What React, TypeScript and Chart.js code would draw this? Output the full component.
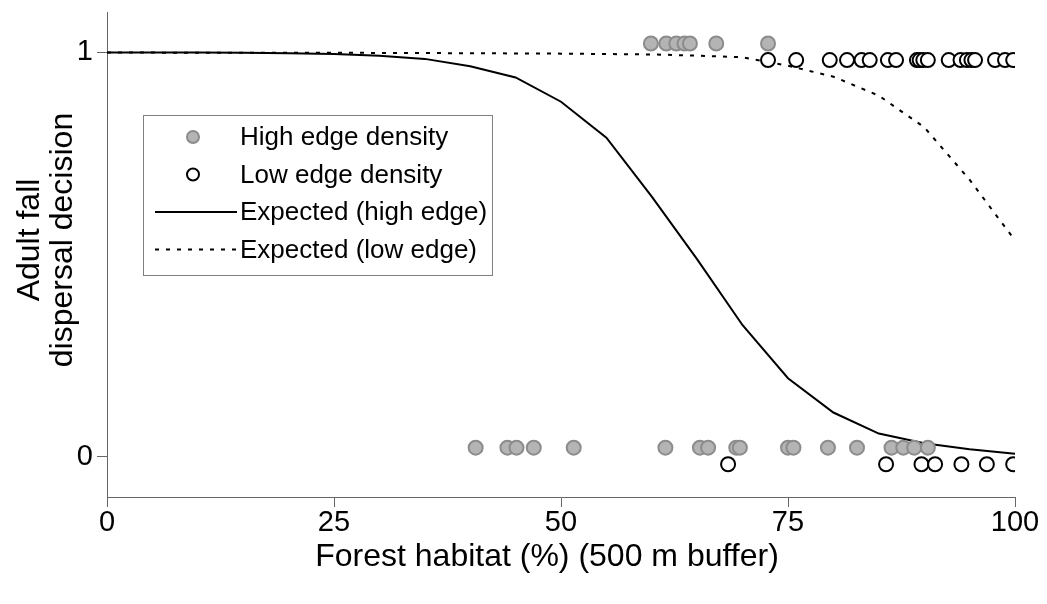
import { useEffect, useRef } from "react";
import { Chart, registerables } from "chart.js";

Chart.register(...registerables);

const FONT = '"Liberation Sans", Arial, Helvetica, sans-serif';

// Axis ticks
const xTickValues = [0, 25, 50, 75, 100];
const yTickValues = [0, 1];
const yTickLabels = ["0", "1"];

// Observed birds: forest habitat (%) within a 500 m buffer, split by decision (1 = dispersed, 0 = stayed)
const highEdgeDispersed = [59.9, 61.6, 62.7, 63.6, 64.2, 67.1, 72.8];
const highEdgeStayed = [
  40.6, 44.1, 45.1, 47.0, 51.4, 61.5, 65.3, 66.2, 69.3, 69.7, 75.0, 75.6, 79.4,
  82.6, 86.4, 87.7, 88.9, 90.4,
];
const lowEdgeDispersed = [
  72.8, 75.9, 79.6, 81.5, 83.1, 84.0, 86.0, 86.9, 89.2, 89.5, 89.9, 90.4, 92.7,
  94.0, 94.7, 95.2, 95.6, 97.8, 98.9, 99.8,
];
const lowEdgeStayed = [68.4, 85.8, 89.7, 91.2, 94.1, 96.9, 99.8];

// Fitted logistic curves (probability of dispersal)
const curveForest = [0, 5, 10, 15, 20, 25, 30, 35, 40, 45, 50, 55, 60, 65, 70, 75, 80, 85, 90, 95, 100];
const expectedHighEdge = [
  1.0, 0.9998, 0.9996, 0.999, 0.998, 0.996, 0.992, 0.984, 0.966, 0.938, 0.878,
  0.789, 0.643, 0.488, 0.325, 0.194, 0.109, 0.057, 0.033, 0.018, 0.007,
];
const expectedLowEdge = [
  0.9995, 0.9995, 0.9994, 0.9993, 0.9992, 0.999, 0.9988, 0.9985, 0.998, 0.9975,
  0.997, 0.996, 0.995, 0.992, 0.988, 0.967, 0.94, 0.893, 0.815, 0.685, 0.535,
];

// Small vertical separation so the two groups at 0 and 1 don't overlap
const HIGH_SHIFT = 0.022;
const LOW_SHIFT = -0.019;

const legendBox = {
  id: "legendBox",
  afterDatasetsDraw(chart: any) {
    const { ctx, chartArea } = chart;
    const left = chartArea.left + 36;
    const top = chartArea.top + 103;
    const w = 349;
    const h = 160;
    ctx.save();
    ctx.fillStyle = "#ffffff";
    ctx.fillRect(left, top, w, h);
    ctx.strokeStyle = "#808080";
    ctx.lineWidth = 1;
    ctx.strokeRect(left + 0.5, top + 0.5, w, h);
    ctx.font = `26px ${FONT}`;
    ctx.textBaseline = "middle";
    ctx.textAlign = "left";
    chart.data.datasets.forEach((ds: any, i: number) => {
      const y = top + 22 + i * 37.5;
      const cx = left + 50;
      if (ds.showLine) {
        ctx.beginPath();
        ctx.strokeStyle = ds.borderColor;
        ctx.lineWidth = ds.borderWidth;
        ctx.setLineDash(ds.borderDash || []);
        ctx.moveTo(left + 12, y);
        ctx.lineTo(left + 94, y);
        ctx.stroke();
        ctx.setLineDash([]);
      } else {
        ctx.beginPath();
        ctx.arc(cx, y, 6, 0, Math.PI * 2);
        ctx.fillStyle = ds.pointBackgroundColor;
        ctx.fill();
        ctx.lineWidth = 2;
        ctx.strokeStyle = ds.pointBorderColor;
        ctx.stroke();
      }
      ctx.fillStyle = "#000";
      ctx.fillText(ds.label, left + 97, y + 1);
    });
    ctx.restore();
  },
};

const axisTitles = {
  id: "axisTitles",
  afterDraw(chart: any) {
    const { ctx, chartArea } = chart;
    ctx.save();
    ctx.fillStyle = "#000";
    ctx.font = `32px ${FONT}`;
    ctx.textAlign = "center";
    ctx.textBaseline = "middle";
    ctx.fillText("Forest habitat (%) (500 m buffer)", chartArea.left + 440, chartArea.bottom + 60);
    ctx.translate(chartArea.left - 77, chartArea.top + 228);
    ctx.rotate(-Math.PI / 2);
    ctx.fillText("Adult fall", 0, 0);
    ctx.fillText("dispersal decision", 0, 33);
    ctx.restore();
  },
};

export default function App() {
  const canvasRef = useRef<HTMLCanvasElement | null>(null);

  useEffect(() => {
    if (!canvasRef.current) return;
    const pts = (xs: number[], y: number) => xs.map((x) => ({ x, y }));
    const curve = (ys: number[]) => curveForest.map((x, i) => ({ x, y: ys[i] }));

    const chart = new Chart(canvasRef.current, {
      type: "scatter",
      data: {
        datasets: [
          {
            label: "High edge density",
            data: [...pts(highEdgeDispersed, 1 + HIGH_SHIFT), ...pts(highEdgeStayed, 0 + HIGH_SHIFT)],
            pointRadius: 7,
            pointBackgroundColor: "#b4b4b4",
            pointBorderColor: "#8c8c8c",
            pointBorderWidth: 2,
            showLine: false,
          },
          {
            label: "Low edge density",
            data: [...pts(lowEdgeDispersed, 1 + LOW_SHIFT), ...pts(lowEdgeStayed, 0 + LOW_SHIFT)],
            pointRadius: 7,
            pointBackgroundColor: "#ffffff",
            pointBorderColor: "#000000",
            pointBorderWidth: 2,
            showLine: false,
          },
          {
            label: "Expected (high edge)",
            data: curve(expectedHighEdge),
            showLine: true,
            borderColor: "#000000",
            borderWidth: 2,
            pointRadius: 0,
            tension: 0,
          },
          {
            label: "Expected (low edge)",
            data: curve(expectedLowEdge),
            showLine: true,
            borderColor: "#000000",
            borderWidth: 2,
            borderDash: [4, 7],
            pointRadius: 0,
            tension: 0,
          },
        ],
      },
      options: {
        animation: false,
        responsive: false,
        devicePixelRatio: 1,
        layout: { padding: { top: 12, right: 32, left: 0, bottom: 0 } },
        plugins: {
          legend: { display: false },
          tooltip: { enabled: false },
        },
        scales: {
          x: {
            type: "linear",
            min: 0,
            max: 100,
            afterBuildTicks: (s: any) => {
              s.ticks = xTickValues.map((value) => ({ value }));
            },
            afterFit: (s: any) => {
              s.height = 107;
              s.paddingLeft = 0;
              s.paddingRight = 0;
            },
            ticks: { font: { family: FONT, size: 29 }, color: "#000", padding: -1, maxRotation: 0 },
            grid: { drawOnChartArea: false, drawTicks: true, tickLength: 10, color: "#666", tickWidth: 1 },
            border: { display: true, color: "#666", width: 1 },
          },
          y: {
            type: "linear",
            min: -0.1,
            max: 1.1,
            afterBuildTicks: (s: any) => {
              s.ticks = yTickValues.map((value) => ({ value }));
            },
            afterFit: (s: any) => {
              s.width = 107;
              s.paddingTop = 0;
              s.paddingBottom = 0;
            },
            ticks: {
              font: { family: FONT, size: 29 },
              color: "#000",
              padding: 4,
              callback: (v: any) => yTickLabels[yTickValues.indexOf(Number(v))] ?? "",
            },
            grid: { drawOnChartArea: false, drawTicks: true, tickLength: 10, color: "#666", tickWidth: 1 },
            border: { display: true, color: "#666", width: 1 },
          },
        },
      },
      plugins: [legendBox, axisTitles],
    });
    return () => chart.destroy();
  }, []);

  return (
    <div style={{ position: "fixed", left: 0, top: 0, width: 1047, height: 604, background: "#fff" }}>
      <canvas ref={canvasRef} width={1047} height={604} />
    </div>
  );
}
